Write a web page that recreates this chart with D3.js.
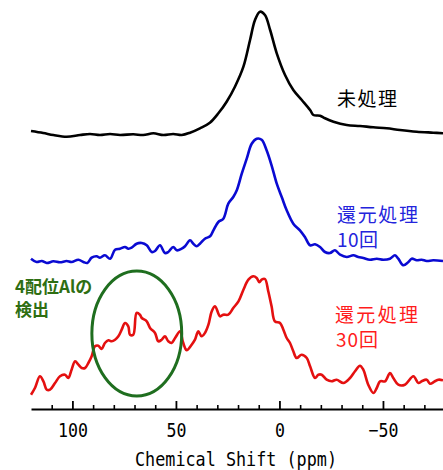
<!DOCTYPE html>
<html>
<head>
<meta charset="utf-8">
<script src="https://cdn.jsdelivr.net/npm/d3@7/dist/d3.min.js"></script>
<style>
body { margin:0; background:#fff; }
.axis path, .axis line { stroke:#000; }
.lbl { font-family:"Noto Sans CJK JP", sans-serif; font-size:19px; }
</style>
</head>
<body>
<div id="chart"></div>
<script>
// 27Al NMR spectra, x in ppm, intensity in arbitrary units (relative to each baseline)
var blackPpm = [120,114.1,109.2,102.8,96.3,91.5,86.7,81.8,77,70.6,65.8,60.9,56.1,51.3,47.2,43.2,38.4,33.6,29.5,25.5,21.5,17.4,14.2,11.8,9.4,7,4.5,1.3,-2.7,-6.7,-10.8,-14.8,-16.4,-19.6,-22,-26.1,-32.5,-38.9,-45.3,-51.8,-58.2,-66.3,-74.3,-79];
var blackInt = [4,2,0,-1.7,0,1,0,1,0,0.7,0,1.7,0,1,0,2.3,6.7,12.3,21.7,33.3,48.3,68.3,95,115,123.3,120,105,81.7,60,45,35,25,20,19.3,16.7,13.3,10,9,7.7,6.7,5,3.3,2.3,1.7];

var bluePpm = [120,117.3,114.8,112.4,109.2,106,102.8,100.4,97.1,94.7,92.8,90.7,88.3,86.7,84.3,81.8,79.4,77,74.6,73,71.4,69,66.5,64.1,61.7,60.1,57.7,55.3,53.7,51.3,49.6,47.2,45.6,43.2,41.6,40,38.4,36,33.5,31.9,29.5,27.1,24.7,22.3,20.6,18.2,15.8,13.4,11,8.6,6.2,3.8,1.3,-1.1,-3.5,-6.7,-9.9,-12.3,-14.8,-17.2,-19.6,-22,-24.4,-26.8,-29.3,-32.5,-35.7,-38.1,-40.5,-43.7,-47,-50.2,-53.4,-55.8,-57.4,-59.8,-62.3,-63.9,-66.3,-68.7,-71.1,-74.3,-79];
var blueInt = [2.3,-1,0,-2,-0.3,-1.3,0,-1,1.3,-1,-2,3.3,4.7,3.3,5.7,2.3,11.3,12.3,14,12.3,13.3,17.3,18,15.7,9,10,15.7,8,9,14,10.7,12.3,14.7,20.7,17.3,14.7,17.3,22.3,24.7,30.7,39,42.3,57.3,64,70.7,87.3,102.3,117.3,122.3,121.3,110.7,95.7,77.3,64,50.7,37.3,30.7,24,15.7,16.7,14,9,8,10.7,6.3,4,5.7,4,3,1.3,2.3,1.3,2.3,5.7,2.3,-4.3,-1,2.3,0.7,1.3,0,0.7,0];

var redPpm = [120,118.1,115.7,114,112.4,110.8,108.4,106,103.6,102,100.4,98.7,97.1,95.5,93.9,92.3,90.7,89.1,87.5,85.9,84.3,82.6,81,79.4,77.8,76.2,74.6,73,72.2,70.6,69,67.4,66.5,64.1,62.5,60.1,58.5,56.9,55.3,53.7,52.1,50.4,48,46.7,45.6,44.8,42.4,40.8,39.2,37.6,36,34.3,32.7,31.1,28.7,27.1,24.7,22.3,19.8,17.4,15,12.6,11,9.7,8.6,7,5.4,3.8,2.2,-0.3,-1.9,-3.5,-5.1,-6.7,-8.3,-10.7,-13.2,-14.8,-17.2,-18.8,-20.4,-22.8,-25.2,-27.6,-30.9,-34.1,-36.5,-38.9,-40.5,-42.9,-45.4,-47,-48.6,-51,-53.4,-55,-57.4,-60.6,-64.7,-67.1,-68.7,-71.1,-72.7,-75.1,-76.8,-79];
var redInt = [-11.7,-5,6.7,1.7,-6.7,-6.7,0,6.7,8.3,5,13.3,21.7,18.3,15,15,20,26.7,36.7,37.3,34,40,42.7,41.7,43.3,46.7,53.3,60,56.7,48.3,48.3,70,68.3,65,61.7,55,50,41.7,43.3,46.7,41.7,40,45,51.7,41.7,35,32.7,38.3,43.3,51.7,46.7,50,58.3,71.7,76.7,66.7,68.3,68.3,75,81.7,93.3,103.3,106.7,105,100.7,103.3,104,91.7,76.7,61.7,60,53.3,45,40,31.7,25,28.3,25,16.7,5,8.3,8.3,3.3,1.7,3.3,0,5,11.7,17.3,13.3,-1.7,-10,-5,1.7,1.7,10,5,-1.7,-1.7,6.7,0,1.7,3.3,-0.7,1.7,3.3,2.7];

var majorTicks = [100, 50, 0, -50];
var minorTicks = [110, 90, 80, 70, 60, 40, 30, 20, 10, -10, -20, -30, -40, -60, -70];

// 4-coordinated Al region marked with the ellipse (ppm range, intensity range on red trace)
var circlePpm = [90.6, 47.2];
var circleInt = [-13, 112];

var series = [
	{ppm: blackPpm, val: blackInt, offset: 274, color: "#000000"},
	{ppm: bluePpm, val: blueInt, offset: 148, color: "#0a0ad2"},
	{ppm: redPpm, val: redInt, offset: 26, color: "#e41010"}
];

var svg = d3.select("#chart").append("svg").attr("width", 443).attr("height", 470);

var x = d3.scaleLinear().domain([120, -79]).range([31, 443]);
var y = d3.scaleLinear().domain([0, 400]).range([409, 9]);

var line = d3.line()
	.curve(d3.curveCatmullRom)
	.x(function(d) { return x(d[0]); })
	.y(function(d) { return y(d[1]); });

for (var k = 0; k < series.length; k++) {
	var s = series[k];
	var pts = s.ppm.map(function(p, i) { return [p, s.val[i] + s.offset]; });
	svg.append("path").datum(pts)
		.attr("fill", "none")
		.attr("stroke", s.color)
		.attr("stroke-width", 2.6)
		.attr("stroke-linejoin", "round")
		.attr("d", line);
}

// ellipse around the 4-coordinated Al bump
var cx = (x(circlePpm[0]) + x(circlePpm[1])) / 2;
var rx = (x(circlePpm[1]) - x(circlePpm[0])) / 2;
var red0 = series[2].offset;
var cy = (y(circleInt[0] + red0) + y(circleInt[1] + red0)) / 2;
var ry = (y(circleInt[0] + red0) - y(circleInt[1] + red0)) / 2;
svg.append("ellipse")
	.attr("cx", cx).attr("cy", cy).attr("rx", rx).attr("ry", ry)
	.attr("fill", "none").attr("stroke", "#1f6e1f").attr("stroke-width", 3);

// x axis: minor ticks every 10, major every 50, all pointing up
var minorAxis = d3.axisBottom(x).tickValues(minorTicks).tickSize(-4).tickFormat("");
var majorAxis = d3.axisBottom(x).tickValues(majorTicks).tickSizeInner(-8).tickSizeOuter(0).tickPadding(14)
	.tickFormat(function(d) { return d < 0 ? "\u2212" + (-d) : d; });

svg.append("g").attr("class", "axis").attr("transform", "translate(0,409)").call(minorAxis)
	.call(function(g) { g.select(".domain").remove(); })
	.selectAll("line").attr("stroke-width", 1.6);

var ax = svg.append("g").attr("class", "axis").attr("transform", "translate(0,409)").call(majorAxis);
ax.select(".domain").attr("stroke-width", 2.2);
ax.selectAll("line").attr("stroke-width", 1.8);
ax.selectAll("text")
	.attr("fill", "#000")
	.attr("font-family", "DejaVu Sans Mono, monospace")
	.attr("font-size", 20)
	.attr("transform", "scale(0.83,1)");

svg.append("text")
	.attr("x", 135).attr("y", 466)
	.attr("font-family", "DejaVu Sans Mono, monospace")
	.attr("font-size", 20)
	.attr("textLength", 202).attr("lengthAdjust", "spacingAndGlyphs")
	.text("Chemical Shift (ppm)");

// labels
svg.append("text").attr("class", "lbl").attr("x", 337).attr("y", 106).attr("fill", "#000")
	.attr("textLength", 60).text("未処理");

svg.append("text").attr("class", "lbl").attr("x", 337).attr("y", 222).attr("fill", "#2424dc")
	.attr("textLength", 81).text("還元処理");
svg.append("text").attr("class", "lbl").attr("x", 337).attr("y", 247).attr("fill", "#2424dc")
	.attr("textLength", 41).text("10回");

svg.append("text").attr("class", "lbl").attr("x", 335).attr("y", 322).attr("fill", "#ff1c1c")
	.attr("textLength", 83).text("還元処理");
svg.append("text").attr("class", "lbl").attr("x", 336).attr("y", 347).attr("fill", "#ff1c1c")
	.attr("textLength", 42).text("30回");

svg.append("text").attr("x", 15).attr("y", 293).attr("fill", "#2e6e12")
	.attr("font-family", "Noto Sans CJK JP, sans-serif").attr("font-size", 17)
	.attr("font-weight", "bold").text("4配位Alの");
svg.append("text").attr("x", 15).attr("y", 316).attr("fill", "#2e6e12")
	.attr("font-family", "Noto Sans CJK JP, sans-serif").attr("font-size", 17)
	.attr("font-weight", "bold").text("検出");
</script>
</body>
</html>
